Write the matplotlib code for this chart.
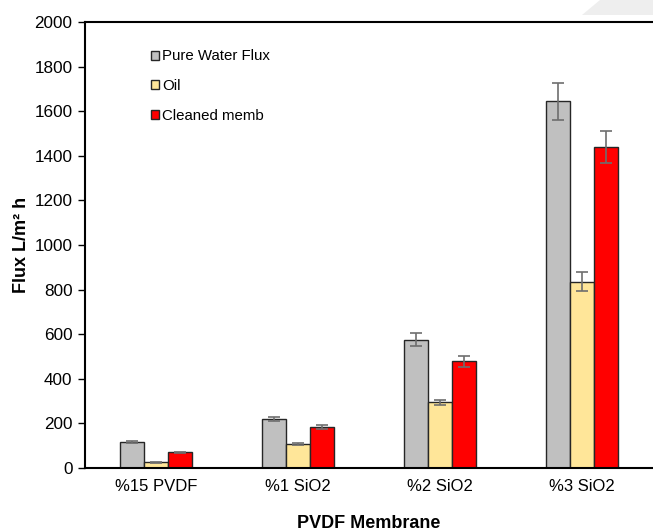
import numpy as np
import matplotlib
matplotlib.use("Agg")
import matplotlib.pyplot as plt
from matplotlib.patches import Polygon

plt.rcParams['font.family'] = ['Liberation Sans', 'DejaVu Sans']

categories = ['%15 PVDF', '%1 SiO2', '%2 SiO2', '%3 SiO2']
pure_water = [118, 220, 575, 1645]
pure_water_err = [5, 10, 29, 83]
oil = [25, 109, 295, 835]
oil_err = [2, 5, 12, 42]
cleaned = [70, 186, 478, 1438]
cleaned_err = [3, 9, 25, 72]

series = [
    ('Pure Water Flux', pure_water, pure_water_err, '#c0c0c0'),
    ('Oil', oil, oil_err, '#ffe699'),
    ('Cleaned memb', cleaned, cleaned_err, '#ff0000'),
]

fig = plt.figure(figsize=(6.53, 5.31), dpi=100)
ax = fig.add_axes([85/653, 63/531, 568/653, 446/531])

x = np.arange(len(categories))
w = 0.169
for i, (name, vals, errs, col) in enumerate(series):
    ax.bar(x + (i - 1) * w, vals, w, color=col, edgecolor='#262626', linewidth=1.0,
           label=name, zorder=2)
    ax.errorbar(x + (i - 1) * w, vals, yerr=errs, fmt='none', ecolor='#6e6e6e',
                elinewidth=1.2, capsize=4, capthick=1.2, zorder=3)

ax.set_xlim(-0.5, 3.5)
ax.set_ylim(0, 2000)
ax.set_yticks(range(0, 2001, 200))
ax.set_xticks(x)
ax.set_xticklabels(categories)
ax.tick_params(axis='x', length=0, pad=8, labelsize=12)
ax.tick_params(axis='y', direction='out', length=5, width=1, labelsize=12.3, pad=4)
ax.spines['right'].set_visible(False)
for s in ['left', 'bottom', 'top']:
    ax.spines[s].set_linewidth(1.5)

ax.set_ylabel('Flux L/m² h', fontsize=13, fontweight='bold')
ax.yaxis.set_label_coords(-0.097, 0.5)
fig.text(369/653, 1 - 523/531, 'PVDF Membrane', fontsize=13, fontweight='bold',
         ha='center', va='center')

ax.legend(loc='upper left', bbox_to_anchor=(0.105, 0.952), frameon=False,
          fontsize=10.8, handlelength=0.55, handleheight=0.55, handletextpad=0.23,
          labelspacing=1.04, borderaxespad=0)

# light grey corner shape in the top right of the picture
fig.patches.append(Polygon([(582/653, 1 - 15/531), (600/653, 1.0), (1.0, 1.0), (1.0, 1 - 15/531)],
                           closed=True, transform=fig.transFigure, facecolor='#eeeeee',
                           edgecolor='none', zorder=-1))

fig.savefig('out.png', dpi=100)
